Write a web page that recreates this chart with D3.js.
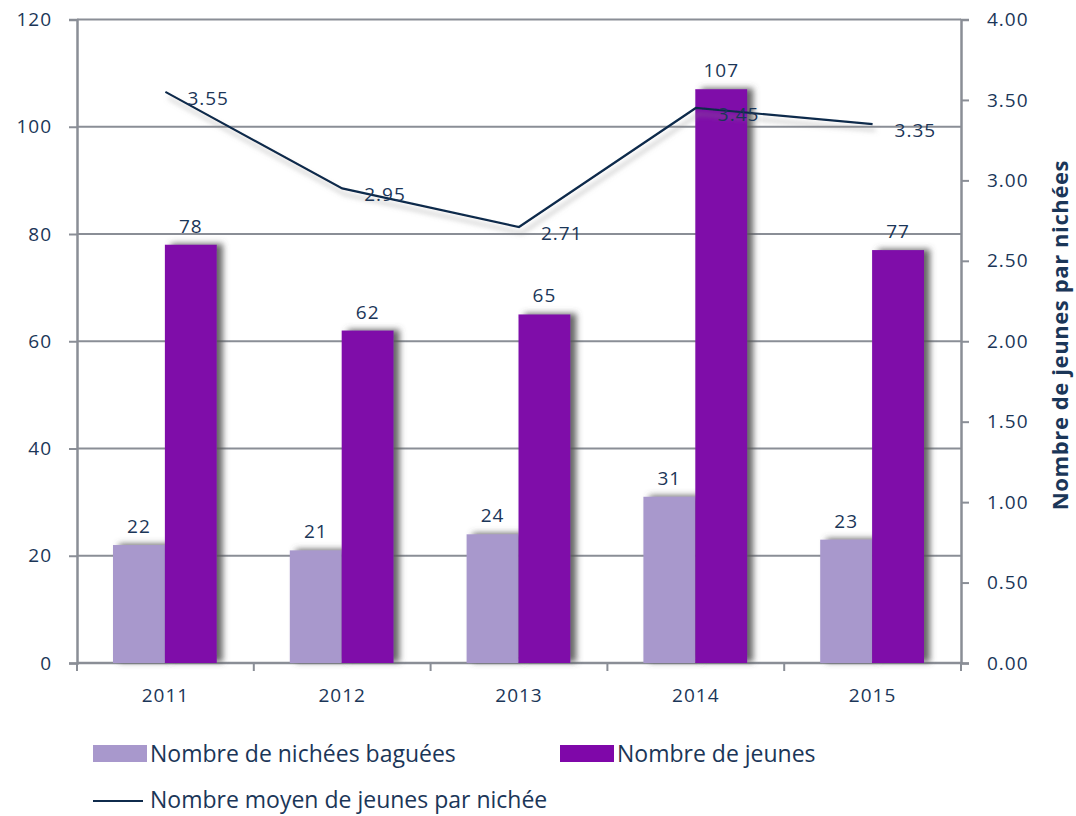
<!DOCTYPE html>
<html>
<head>
<meta charset="utf-8">
<script src="https://cdn.jsdelivr.net/npm/d3@7"></script>
<style>
  body { margin: 0; background: #fff; }
  text { font-family: "Open Sans", sans-serif; fill: #1b3658; }
</style>
</head>
<body>
<svg id="drawing_region"></svg>
<script>
const years = ["2011", "2012", "2013", "2014", "2015"];
const nichees = [22, 21, 24, 31, 23];
const jeunes = [78, 62, 65, 107, 77];
const moyenne = [3.55, 2.95, 2.71, 3.45, 3.35];
const leftTicks = [0, 20, 40, 60, 80, 100, 120];
const rightTicks = [0, 0.5, 1, 1.5, 2, 2.5, 3, 3.5, 4];

const width = 1076, height = 816;
const margin = {top: 19.5, left: 77, right: 115, bottom: 153};
const inner_width = width - margin.left - margin.right;
const inner_height = height - margin.top - margin.bottom;

const svg = d3.select('#drawing_region')
    .attr('width', width)
    .attr('height', height);

const defs = svg.append('defs');
const shadow = defs.append('filter').attr('id', 'shadow')
    .attr('x', '-20%').attr('y', '-20%').attr('width', '160%').attr('height', '160%');
shadow.append('feDropShadow')
    .attr('dx', 6).attr('dy', -1).attr('stdDeviation', 3)
    .attr('flood-color', '#555').attr('flood-opacity', 0.9);
const lshadow = defs.append('filter').attr('id', 'lshadow')
    .attr('x', '-20%').attr('y', '-50%').attr('width', '140%').attr('height', '200%');
lshadow.append('feDropShadow')
    .attr('dx', 3).attr('dy', 6).attr('stdDeviation', 2.5)
    .attr('flood-color', '#888').attr('flood-opacity', 0.55);

const chart = svg.append('g')
    .attr('transform', `translate(${margin.left}, ${margin.top})`);

const xscale = d3.scaleBand().domain(years).range([0, inner_width]);
const inner = d3.scaleBand().domain(['n', 'j']).range([36, xscale.bandwidth() - 37]);
const yleft = d3.scaleLinear().domain([0, 120]).range([inner_height, 0]);
const yright = d3.scaleLinear().domain([0, 4]).range([inner_height, 0]);

const gridColor = '#8a8e96';
const numFont = {size: '19px', spacing: '1px'};

// gridlines
chart.append('g').selectAll('line')
    .data(leftTicks.slice(1))
    .join('line')
    .attr('x1', 0).attr('x2', inner_width)
    .attr('y1', d => yleft(d)).attr('y2', d => yleft(d))
    .attr('stroke', gridColor).attr('stroke-width', 2);

// left axis
const yaxis_group = chart.append('g')
    .call(d3.axisLeft(yleft).tickValues(leftTicks).tickSize(8).tickPadding(17));
// right axis
const yaxis2_group = chart.append('g')
    .attr('transform', `translate(${inner_width},0)`)
    .call(d3.axisRight(yright).tickValues(rightTicks).tickSize(8).tickPadding(18)
        .tickFormat(d3.format('.2f')));
// bottom axis
const xaxis_group = chart.append('g')
    .attr('transform', `translate(0,${inner_height})`)
    .call(d3.axisBottom(xscale).tickSize(0).tickPadding(26));

xaxis_group.selectAll('.tick-b')
    .data(d3.range(years.length + 1))
    .join('line')
    .attr('x1', d => d * xscale.step()).attr('x2', d => d * xscale.step())
    .attr('y1', 0).attr('y2', 8)
    .attr('stroke', gridColor).attr('stroke-width', 2);

[yaxis_group, yaxis2_group, xaxis_group].forEach(g => {
    g.select('.domain').attr('stroke', gridColor).attr('stroke-width', 2.5);
    g.selectAll('.tick line').attr('stroke', gridColor).attr('stroke-width', 2);
    g.selectAll('.tick text').attr('font-size', numFont.size).attr('fill', '#1b3658')
        .attr('letter-spacing', numFont.spacing)
        .attr('font-family', '"Open Sans", sans-serif');
});
xaxis_group.select('.domain').attr('d', `M0,0H${inner_width}`);

// bars
chart.append('g').selectAll('rect')
    .data(nichees)
    .join('rect')
    .attr('x', (d, i) => xscale(years[i]) + inner('n'))
    .attr('y', d => yleft(d))
    .attr('width', inner.bandwidth())
    .attr('height', d => inner_height - yleft(d))
    .attr('fill', '#a898cc')
    .attr('filter', 'url(#shadow)');

chart.append('g').selectAll('rect')
    .data(jeunes)
    .join('rect')
    .attr('x', (d, i) => xscale(years[i]) + inner('j'))
    .attr('y', d => yleft(d))
    .attr('width', inner.bandwidth())
    .attr('height', d => inner_height - yleft(d))
    .attr('fill', '#7f07a9')
    .attr('filter', 'url(#shadow)');

// bar labels
chart.append('g').selectAll('text')
    .data(nichees)
    .join('text')
    .attr('x', (d, i) => xscale(years[i]) + inner('n') + inner.bandwidth() / 2)
    .attr('y', d => yleft(d) - 12)
    .attr('text-anchor', 'middle')
    .attr('font-size', numFont.size)
    .attr('letter-spacing', numFont.spacing)
    .text(d => d);

chart.append('g').selectAll('text')
    .data(jeunes)
    .join('text')
    .attr('x', (d, i) => xscale(years[i]) + inner('j') + inner.bandwidth() / 2)
    .attr('y', d => yleft(d) - 12)
    .attr('text-anchor', 'middle')
    .attr('font-size', numFont.size)
    .attr('letter-spacing', numFont.spacing)
    .text(d => d);

// line
const line = d3.line()
    .x((d, i) => xscale(years[i]) + xscale.bandwidth() / 2)
    .y(d => yright(d));

chart.append('path')
    .datum(moyenne)
    .attr('d', line)
    .attr('fill', 'none')
    .attr('stroke', '#0f2b4c')
    .attr('stroke-width', 2.2)
    .attr('filter', 'url(#lshadow)');

chart.append('g').selectAll('text')
    .data(moyenne)
    .join('text')
    .attr('x', (d, i) => xscale(years[i]) + xscale.bandwidth() / 2 + 22)
    .attr('y', d => yright(d) + 13)
    .attr('font-size', numFont.size)
    .attr('letter-spacing', numFont.spacing)
    .text(d => d3.format('.2f')(d));

// right axis title
svg.append('text')
    .attr('transform', `translate(1068, 335) rotate(-90)`)
    .attr('text-anchor', 'middle')
    .attr('font-size', '22px')
    .attr('font-weight', 'bold')
    .attr('letter-spacing', '0.6px')
    .text('Nombre de jeunes par nichées');

// legend
const legend = svg.append('g');
legend.append('rect').attr('x', 93).attr('y', 745).attr('width', 54).attr('height', 17).attr('fill', '#a898cc');
legend.append('text').attr('x', 150).attr('y', 762).attr('font-size', '23px').text('Nombre de nichées baguées');
legend.append('rect').attr('x', 560).attr('y', 745).attr('width', 54).attr('height', 17).attr('fill', '#7f07a9');
legend.append('text').attr('x', 617).attr('y', 762).attr('font-size', '23px').text('Nombre de jeunes');
legend.append('line').attr('x1', 93).attr('x2', 143).attr('y1', 801).attr('y2', 801)
    .attr('stroke', '#0f2b4c').attr('stroke-width', 2.2);
legend.append('text').attr('x', 150).attr('y', 808).attr('font-size', '23px').text('Nombre moyen de jeunes par nichée');
</script>
</body>
</html>
